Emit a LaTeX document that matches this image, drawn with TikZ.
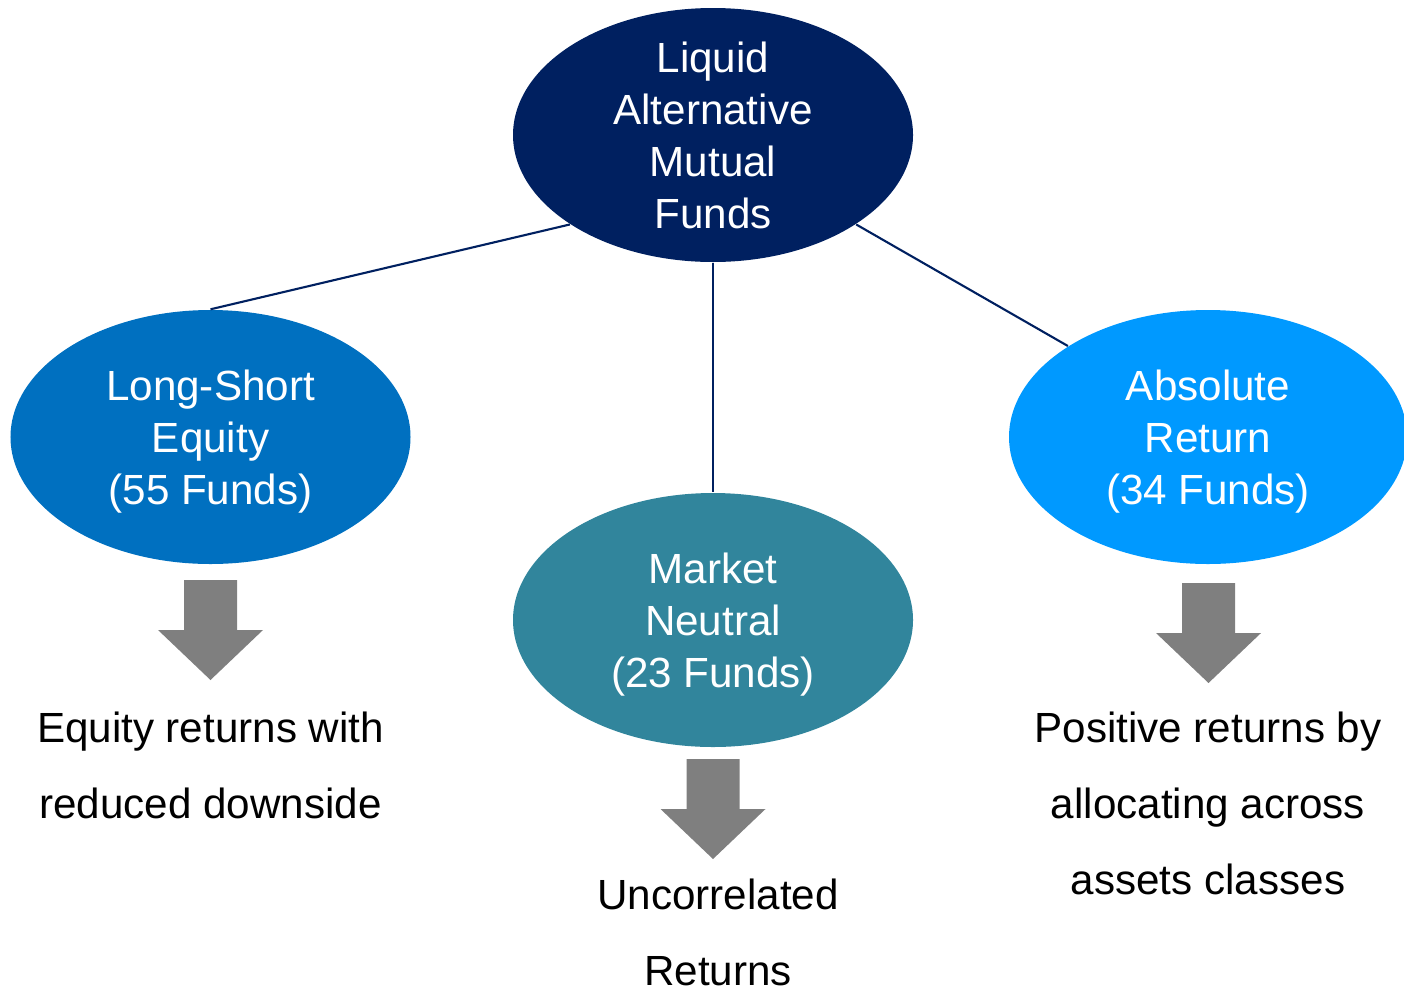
\documentclass[tikz,border=0pt]{standalone}
\usepackage{fontspec}
\setmainfont{Liberation Sans}
\usetikzlibrary{shapes.geometric}

\definecolor{navy}{HTML}{002060}
\definecolor{lsblue}{HTML}{0070C0}
\definecolor{mnteal}{HTML}{31859C}
\definecolor{arblue}{HTML}{0099FF}
\definecolor{arrowgray}{HTML}{7F7F7F}

\tikzset{
  fund/.style={ellipse, minimum width=4cm, minimum height=2.54cm, inner sep=0pt,
    text depth=0pt, text=white, align=center, font=\fontsize{12}{14.8}\selectfont},
  goal/.style={align=center, font=\fontsize{12}{21.6}\selectfont},
  link/.style={draw=navy, line width=0.6pt}
}

% block arrow pointing down, #1 = top centre
\newcommand{\grayarrow}[1]{%
  \fill[arrowgray] (#1) ++(-0.265,0) -- ++(0,-0.5) -- ++(-0.26,0) -- ++(0.525,-0.5)
    -- ++(0.525,0.5) -- ++(-0.26,0) -- ++(0,0.5) -- cycle;}

\begin{document}
\begin{tikzpicture}
    \useasboundingbox (0,0) rectangle (14.04,9.89);

    % the four ellipses
    \node[fund, fill=navy, inner ysep=-3pt] (top) at (7.13,8.54) {Liquid\\Alternative\\Mutual\\Funds};
    \node[fund, fill=lsblue] (lse) at (2.105,5.52) {Long-Short\\Equity\\(55 Funds)};
    \node[fund, fill=mnteal] (mn) at (7.13,3.69) {Market\\Neutral\\(23 Funds)};
    \node[fund, fill=arblue, minimum width=3.98cm] (ar) at (12.08,5.52) {Absolute\\Return\\(34 Funds)};

    \draw[link] (top.212) -- (lse.north);
    \draw[link] (top.south) -- (mn.north);
    \draw[link] (top.328) -- (ar.147);

    % outcome arrows
    \grayarrow{2.105,4.09}
    \grayarrow{7.13,2.30}
    \grayarrow{12.085,4.06}

    \node[goal] (lsgoal) at (2.105,2.24) {Equity returns with\\reduced downside};
    \node[goal] (mngoal) at (7.18,0.565) {Uncorrelated\\Returns};
    \node[goal] (argoal) at (12.08,1.86) {Positive returns by\\allocating across\\assets classes};
\end{tikzpicture}
\end{document}
